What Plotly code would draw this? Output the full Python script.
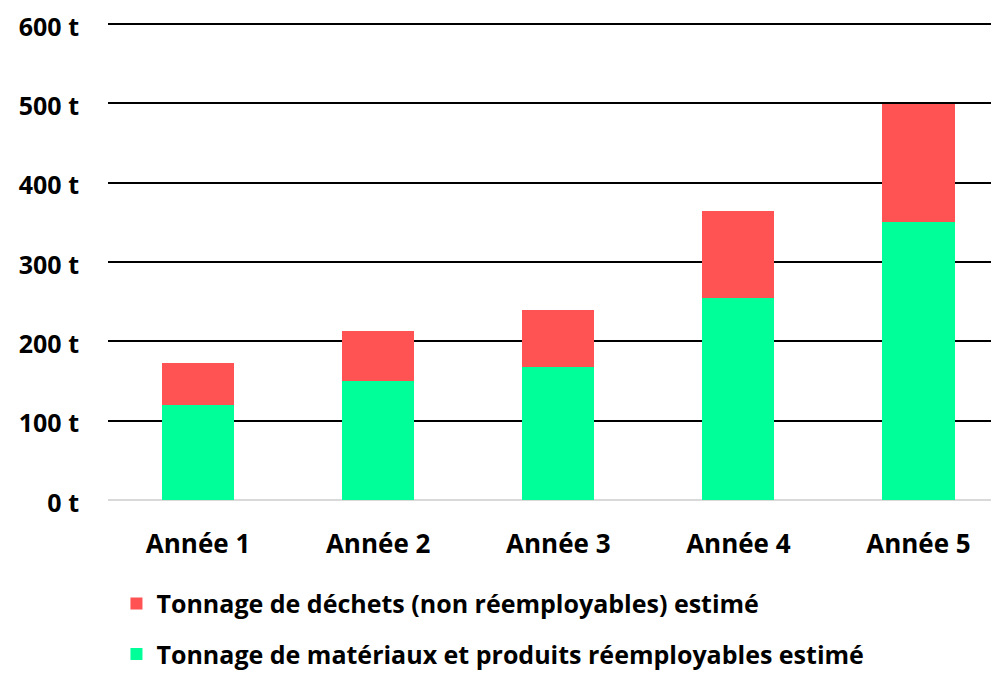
import plotly.graph_objects as go

categories = ["Année 1", "Année 2", "Année 3", "Année 4", "Année 5"]
reemployables = [120, 150, 168, 255, 350]
dechets = [53, 63, 72, 109, 149]
y_ticks = [0, 100, 200, 300, 400, 500, 600]
y_labels = ["0 t", "100 t", "200 t", "300 t", "400 t", "500 t", "600 t"]
name_reemp = "Tonnage de matériaux et produits réemployables estimé"
name_dech = "Tonnage de déchets (non réemployables) estimé"

FONT = "Open Sans"

fig = go.Figure()
fig.add_trace(go.Bar(x=categories, y=reemployables, name=name_reemp,
                     marker=dict(color="#00FF99", line=dict(width=0)),
                     width=0.4, legendgroup="a", legendrank=2))
fig.add_trace(go.Bar(x=categories, y=dechets, name=name_dech,
                     marker=dict(color="#FF5252", line=dict(width=0)),
                     width=0.4, legendgroup="b", legendrank=1))

fig.update_layout(
    barmode="stack",
    width=999, height=673,
    margin=dict(l=100, r=8, t=12, b=181, autoexpand=False),
    plot_bgcolor="white", paper_bgcolor="white",
    font=dict(family=FONT, size=20, color="black"),
    xaxis=dict(range=[-0.5, 4.447], showgrid=False, showline=False,
               tickfont=dict(family=FONT, size=26, color="black", weight="bold"),
               ticks="", ticklabelstandoff=26),
    yaxis=dict(range=[0, 605], tickvals=y_ticks, ticktext=y_labels,
               showgrid=True, gridcolor="black", gridwidth=2,
               zeroline=True, zerolinecolor="#d9d9d9", zerolinewidth=2,
               tickfont=dict(family=FONT, size=25, color="black", weight="bold"),
               ticks="", ticklabelstandoff=28, ticklabeloverflow="allow",
               ticklabelshift=3),
    legend=dict(orientation="v", x=0.0095, xanchor="left", y=-0.168, yanchor="top",
                traceorder="grouped", tracegroupgap=15,
                font=dict(family=FONT, size=25, color="black", weight="bold"),
                itemwidth=30),
    showlegend=True,
)

fig.write_html("out.html")
